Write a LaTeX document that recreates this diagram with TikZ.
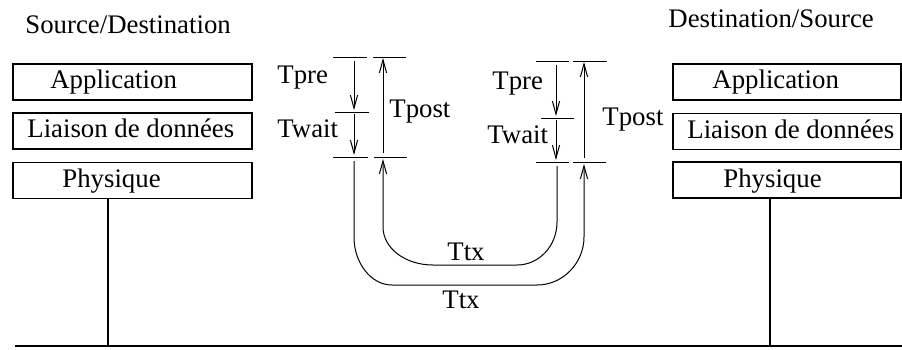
\documentclass[tikz,border=0pt]{standalone}
\usepackage{fontspec}
\setmainfont{Liberation Serif}
\usetikzlibrary{arrows.meta}
\tikzset{
  layer/.style={draw, line width=0.6pt, minimum width=119.5pt, minimum height=18pt, inner sep=0pt},
  rlayer/.style={layer, minimum width=114pt},
  lbl/.style={anchor=base west, inner sep=0pt, font=\fontsize{13.4}{16}\selectfont},
  tick/.style={line width=0.5pt},
  dim/.style={line width=0.5pt, -{Straight Barb[length=6.5pt,width=3.6pt]}},
}
\begin{document}
\begin{tikzpicture}[x=0.5pt,y=-0.5pt]
\useasboundingbox (0,0) rectangle (902,349);

% Stack: source side
\node[layer] (lapp) at (132.5,82) {};
\node[layer] (llia) at (132.5,131) {};
\node[layer] (lphy) at (132.5,180.5) {};
\node[lbl] (lappt) at (50,88) {Application};
\node[lbl] (lliat) at (27,137) {Liaison de données};
\node[lbl] (lphyt) at (62,187) {Physique};
\node[lbl] (lsrc) at (25,33) {Source/Destination};

% Stack: destination side
\node[rlayer] (rapp) at (787,82) {};
\node[rlayer] (rlia) at (787,131.5) {};
\node[rlayer] (rphy) at (787,180) {};
\node[lbl] (rappt) at (712,88) {Application};
\node[lbl] (rliat) at (687,138) {Liaison de données};
\node[lbl] (rphyt) at (723,187) {Physique};
\node[lbl] (rdst) at (668,27) {Destination/Source};

% Medium
\coordinate (gndA) at (15,346);
\coordinate (gndB) at (902,346);
\coordinate (lgnd) at (108,346);
\coordinate (rgnd) at (770,346);
\draw[line width=1pt] (gndA) -- (gndB);
\draw[line width=0.75pt] (lgnd |- lphy.south) -- (lgnd);
\draw[line width=0.75pt] (rgnd |- rphy.south) -- (rgnd);

% Ticks: source side
\draw[tick] (333,57) -- (367,57);
\draw[tick] (373,57) -- (406,57);
\draw[tick] (335,112) -- (369,112);
\draw[tick] (333,157) -- (368,157);
\draw[tick] (374,157) -- (407,157);
% Ticks: destination side
\draw[tick] (536,61) -- (569,61);
\draw[tick] (573,61) -- (607,61);
\draw[tick] (541,118) -- (574,118);
\draw[tick] (536,162) -- (569,162);
\draw[tick] (573,162) -- (606,162);

% Dimension points
\coordinate (Lpre0) at (354,61);
\coordinate (Lpre1) at (354,110);
\coordinate (Lwait0) at (354,114);
\coordinate (Lwait1) at (354,155);
\coordinate (Lpost0) at (383,153);
\coordinate (Lpost1) at (383,58);
\coordinate (Lout) at (354,161);
\coordinate (Lin) at (383,159);
\coordinate (Rpre0) at (556,65);
\coordinate (Rpre1) at (556,116);
\coordinate (Rwait0) at (556,120);
\coordinate (Rwait1) at (556,160);
\coordinate (Rpost0) at (584,158);
\coordinate (Rpost1) at (584,62);
\coordinate (Rin) at (557,166);
\coordinate (Rout) at (584,164);

% Arrows
\draw[dim] (Lpre0) -- (Lpre1);
\draw[dim] (Lwait0) -- (Lwait1);
\draw[dim] (Lpost0) -- (Lpost1);
\draw[dim] (Rpre0) -- (Rpre1);
\draw[dim] (Rwait0) -- (Rwait1);
\draw[dim] (Rpost0) -- (Rpost1);
% Ttx curves
\draw[dim] (Lout) -- (354,237) .. controls (354,263) and (371,285) .. (392,285) -- (537,285) .. controls (563,285) and (584,263) .. (584,237) -- (Rout);
\draw[dim] (Rin) -- (557,222) .. controls (557,246) and (539,265) .. (517,265) -- (433,265) .. controls (405,265) and (383,248) .. (383,227) -- (Lin);

% Text Node
\node[lbl] (lpre) at (277,83) {Tpre};
\node[lbl] (lwait) at (277,137) {Twait};
\node[lbl] (lpost) at (389,117) {Tpost};
\node[lbl] (rpre) at (492,89) {Tpre};
\node[lbl] (rwait) at (487,143) {Twait};
\node[lbl] (rpost) at (602,125) {Tpost};
\node[lbl] (ttxin) at (447,260) {Ttx};
\node[lbl] (ttxout) at (442,308) {Ttx};

\end{tikzpicture}
\end{document}
